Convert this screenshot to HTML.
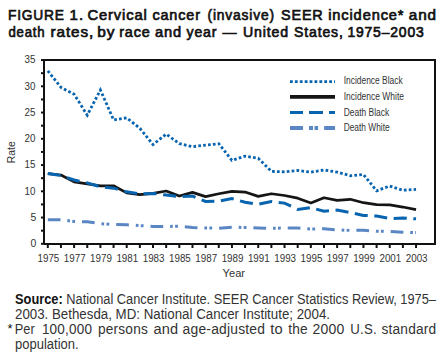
<!DOCTYPE html>
<html><head><meta charset="utf-8"><style>
html,body{margin:0;padding:0;background:#fff;}
svg{display:block;}
text{font-family:"Liberation Sans",sans-serif;fill:#111;}
.lt{fill:#333;}
</style></head><body>
<svg width="444" height="355" viewBox="0 0 444 355">
<text x="7.92" y="19.599999999999998" font-size="15" font-weight="normal" stroke="#111" stroke-width="0.7" letter-spacing="0.9" textLength="56.92" lengthAdjust="spacingAndGlyphs">FIGURE</text>
<text x="69.64" y="19.599999999999998" font-size="15" font-weight="normal" stroke="#111" stroke-width="0.7" letter-spacing="0.9" textLength="14.36" lengthAdjust="spacingAndGlyphs">1.</text>
<text x="87.44" y="19.599999999999998" font-size="15" font-weight="normal" stroke="#111" stroke-width="0.7" letter-spacing="0.9" textLength="60.28" lengthAdjust="spacingAndGlyphs">Cervical</text>
<text x="152.44" y="19.599999999999998" font-size="15" font-weight="normal" stroke="#111" stroke-width="0.7" letter-spacing="0.9" textLength="48.36" lengthAdjust="spacingAndGlyphs">cancer</text>
<text x="207.48" y="19.599999999999998" font-size="15" font-weight="normal" stroke="#111" stroke-width="0.7" letter-spacing="0.9" textLength="67.40" lengthAdjust="spacingAndGlyphs">(invasive)</text>
<text x="280.96" y="19.599999999999998" font-size="15" font-weight="normal" stroke="#111" stroke-width="0.7" letter-spacing="0.9" textLength="42.68" lengthAdjust="spacingAndGlyphs">SEER</text>
<text x="328.20" y="19.599999999999998" font-size="15" font-weight="normal" stroke="#111" stroke-width="0.7" letter-spacing="0.9" textLength="76.20" lengthAdjust="spacingAndGlyphs">incidence*</text>
<text x="408.76" y="19.599999999999998" font-size="15" font-weight="normal" stroke="#111" stroke-width="0.7" letter-spacing="0.9" textLength="28.20" lengthAdjust="spacingAndGlyphs">and</text>
<text x="8.52" y="37.1" font-size="15" font-weight="normal" stroke="#111" stroke-width="0.7" letter-spacing="0.9" textLength="36.88" lengthAdjust="spacingAndGlyphs">death</text>
<text x="50.48" y="37.1" font-size="15" font-weight="normal" stroke="#111" stroke-width="0.7" letter-spacing="0.9" textLength="43.72" lengthAdjust="spacingAndGlyphs">rates,</text>
<text x="97.20" y="37.1" font-size="15" font-weight="normal" stroke="#111" stroke-width="0.7" letter-spacing="0.9" textLength="18.16" lengthAdjust="spacingAndGlyphs">by</text>
<text x="119.20" y="37.1" font-size="15" font-weight="normal" stroke="#111" stroke-width="0.7" letter-spacing="0.9" textLength="31.44" lengthAdjust="spacingAndGlyphs">race</text>
<text x="155.00" y="37.1" font-size="15" font-weight="normal" stroke="#111" stroke-width="0.7" letter-spacing="0.9" textLength="27.16" lengthAdjust="spacingAndGlyphs">and</text>
<text x="186.52" y="37.1" font-size="15" font-weight="normal" stroke="#111" stroke-width="0.7" letter-spacing="0.9" textLength="30.76" lengthAdjust="spacingAndGlyphs">year</text>
<text x="222.56" y="37.1" font-size="15" font-weight="normal" stroke="#111" stroke-width="0.7" letter-spacing="0.9" textLength="14.92" lengthAdjust="spacingAndGlyphs">—</text>
<text x="242.92" y="37.1" font-size="15" font-weight="normal" stroke="#111" stroke-width="0.7" letter-spacing="0.9" textLength="45.96" lengthAdjust="spacingAndGlyphs">United</text>
<text x="294.00" y="37.1" font-size="15" font-weight="normal" stroke="#111" stroke-width="0.7" letter-spacing="0.9" textLength="49.72" lengthAdjust="spacingAndGlyphs">States,</text>
<text x="347.40" y="37.1" font-size="15" font-weight="normal" stroke="#111" stroke-width="0.7" letter-spacing="0.9" textLength="77.20" lengthAdjust="spacingAndGlyphs">1975–2003</text>
<text x="14.64" y="334" font-size="13.8" class="lt" letter-spacing="0.2" textLength="20.44" lengthAdjust="spacingAndGlyphs">Per</text>
<text x="41.88" y="334" font-size="13.8" class="lt" letter-spacing="0.2" textLength="50.24" lengthAdjust="spacingAndGlyphs">100,000</text>
<text x="97.88" y="334" font-size="13.8" class="lt" letter-spacing="0.2" textLength="50.16" lengthAdjust="spacingAndGlyphs">persons</text>
<text x="153.40" y="334" font-size="13.8" class="lt" letter-spacing="0.2" textLength="24.96" lengthAdjust="spacingAndGlyphs">and</text>
<text x="182.64" y="334" font-size="13.8" class="lt" letter-spacing="0.2" textLength="82.52" lengthAdjust="spacingAndGlyphs">age-adjusted</text>
<text x="270.20" y="334" font-size="13.8" class="lt" letter-spacing="0.2" textLength="12.64" lengthAdjust="spacingAndGlyphs">to</text>
<text x="288.28" y="334" font-size="13.8" class="lt" letter-spacing="0.2" textLength="19.60" lengthAdjust="spacingAndGlyphs">the</text>
<text x="312.64" y="334" font-size="13.8" class="lt" letter-spacing="0.2" textLength="31.96" lengthAdjust="spacingAndGlyphs">2000</text>
<text x="350.36" y="334" font-size="13.8" class="lt" letter-spacing="0.2" textLength="26.52" lengthAdjust="spacingAndGlyphs">U.S.</text>
<text x="381.44" y="334" font-size="13.8" class="lt" letter-spacing="0.2" textLength="54.92" lengthAdjust="spacingAndGlyphs">standard</text>
<path d="M44,244 V60 H435 V244 H44" fill="none" stroke="#111" stroke-width="2"/>
<line x1="41" x2="44" y1="243.80" y2="243.80" stroke="#111" stroke-width="2"/>
<line x1="41" x2="44" y1="230.68" y2="230.68" stroke="#111" stroke-width="2"/>
<line x1="41" x2="44" y1="217.55" y2="217.55" stroke="#111" stroke-width="2"/>
<line x1="41" x2="44" y1="204.43" y2="204.43" stroke="#111" stroke-width="2"/>
<line x1="41" x2="44" y1="191.30" y2="191.30" stroke="#111" stroke-width="2"/>
<line x1="41" x2="44" y1="178.18" y2="178.18" stroke="#111" stroke-width="2"/>
<line x1="41" x2="44" y1="165.05" y2="165.05" stroke="#111" stroke-width="2"/>
<line x1="41" x2="44" y1="151.93" y2="151.93" stroke="#111" stroke-width="2"/>
<line x1="41" x2="44" y1="138.80" y2="138.80" stroke="#111" stroke-width="2"/>
<line x1="41" x2="44" y1="125.68" y2="125.68" stroke="#111" stroke-width="2"/>
<line x1="41" x2="44" y1="112.55" y2="112.55" stroke="#111" stroke-width="2"/>
<line x1="41" x2="44" y1="99.43" y2="99.43" stroke="#111" stroke-width="2"/>
<line x1="41" x2="44" y1="86.30" y2="86.30" stroke="#111" stroke-width="2"/>
<line x1="41" x2="44" y1="73.18" y2="73.18" stroke="#111" stroke-width="2"/>
<line x1="41" x2="44" y1="60.05" y2="60.05" stroke="#111" stroke-width="2"/>
<text class="lt" x="30.50" y="247.10" font-size="10.6" textLength="5.8" lengthAdjust="spacingAndGlyphs">0</text>
<text class="lt" x="30.50" y="220.85" font-size="10.6" textLength="5.8" lengthAdjust="spacingAndGlyphs">5</text>
<text class="lt" x="24.60" y="194.60" font-size="10.6" textLength="10.9" lengthAdjust="spacingAndGlyphs">10</text>
<text class="lt" x="24.60" y="168.35" font-size="10.6" textLength="10.9" lengthAdjust="spacingAndGlyphs">15</text>
<text class="lt" x="24.60" y="142.10" font-size="10.6" textLength="10.9" lengthAdjust="spacingAndGlyphs">20</text>
<text class="lt" x="24.60" y="115.85" font-size="10.6" textLength="10.9" lengthAdjust="spacingAndGlyphs">25</text>
<text class="lt" x="24.60" y="89.60" font-size="10.6" textLength="10.9" lengthAdjust="spacingAndGlyphs">30</text>
<text class="lt" x="24.60" y="63.35" font-size="10.6" textLength="10.9" lengthAdjust="spacingAndGlyphs">35</text>
<line x1="47.80" x2="47.80" y1="244" y2="248" stroke="#111" stroke-width="2"/>
<line x1="60.95" x2="60.95" y1="244" y2="248" stroke="#111" stroke-width="2"/>
<line x1="74.10" x2="74.10" y1="244" y2="248" stroke="#111" stroke-width="2"/>
<line x1="87.26" x2="87.26" y1="244" y2="248" stroke="#111" stroke-width="2"/>
<line x1="100.41" x2="100.41" y1="244" y2="248" stroke="#111" stroke-width="2"/>
<line x1="113.56" x2="113.56" y1="244" y2="248" stroke="#111" stroke-width="2"/>
<line x1="126.71" x2="126.71" y1="244" y2="248" stroke="#111" stroke-width="2"/>
<line x1="139.86" x2="139.86" y1="244" y2="248" stroke="#111" stroke-width="2"/>
<line x1="153.02" x2="153.02" y1="244" y2="248" stroke="#111" stroke-width="2"/>
<line x1="166.17" x2="166.17" y1="244" y2="248" stroke="#111" stroke-width="2"/>
<line x1="179.32" x2="179.32" y1="244" y2="248" stroke="#111" stroke-width="2"/>
<line x1="192.47" x2="192.47" y1="244" y2="248" stroke="#111" stroke-width="2"/>
<line x1="205.62" x2="205.62" y1="244" y2="248" stroke="#111" stroke-width="2"/>
<line x1="218.78" x2="218.78" y1="244" y2="248" stroke="#111" stroke-width="2"/>
<line x1="231.93" x2="231.93" y1="244" y2="248" stroke="#111" stroke-width="2"/>
<line x1="245.08" x2="245.08" y1="244" y2="248" stroke="#111" stroke-width="2"/>
<line x1="258.23" x2="258.23" y1="244" y2="248" stroke="#111" stroke-width="2"/>
<line x1="271.38" x2="271.38" y1="244" y2="248" stroke="#111" stroke-width="2"/>
<line x1="284.54" x2="284.54" y1="244" y2="248" stroke="#111" stroke-width="2"/>
<line x1="297.69" x2="297.69" y1="244" y2="248" stroke="#111" stroke-width="2"/>
<line x1="310.84" x2="310.84" y1="244" y2="248" stroke="#111" stroke-width="2"/>
<line x1="323.99" x2="323.99" y1="244" y2="248" stroke="#111" stroke-width="2"/>
<line x1="337.14" x2="337.14" y1="244" y2="248" stroke="#111" stroke-width="2"/>
<line x1="350.30" x2="350.30" y1="244" y2="248" stroke="#111" stroke-width="2"/>
<line x1="363.45" x2="363.45" y1="244" y2="248" stroke="#111" stroke-width="2"/>
<line x1="376.60" x2="376.60" y1="244" y2="248" stroke="#111" stroke-width="2"/>
<line x1="389.75" x2="389.75" y1="244" y2="248" stroke="#111" stroke-width="2"/>
<line x1="402.90" x2="402.90" y1="244" y2="248" stroke="#111" stroke-width="2"/>
<line x1="416.06" x2="416.06" y1="244" y2="248" stroke="#111" stroke-width="2"/>
<text class="lt" x="37.50" y="262.4" font-size="10.7" textLength="21.8" lengthAdjust="spacingAndGlyphs">1975</text>
<text class="lt" x="63.80" y="262.4" font-size="10.7" textLength="21.8" lengthAdjust="spacingAndGlyphs">1977</text>
<text class="lt" x="90.11" y="262.4" font-size="10.7" textLength="21.8" lengthAdjust="spacingAndGlyphs">1979</text>
<text class="lt" x="116.41" y="262.4" font-size="10.7" textLength="21.8" lengthAdjust="spacingAndGlyphs">1981</text>
<text class="lt" x="142.72" y="262.4" font-size="10.7" textLength="21.8" lengthAdjust="spacingAndGlyphs">1983</text>
<text class="lt" x="169.02" y="262.4" font-size="10.7" textLength="21.8" lengthAdjust="spacingAndGlyphs">1985</text>
<text class="lt" x="195.32" y="262.4" font-size="10.7" textLength="21.8" lengthAdjust="spacingAndGlyphs">1987</text>
<text class="lt" x="221.63" y="262.4" font-size="10.7" textLength="21.8" lengthAdjust="spacingAndGlyphs">1989</text>
<text class="lt" x="247.93" y="262.4" font-size="10.7" textLength="21.8" lengthAdjust="spacingAndGlyphs">1991</text>
<text class="lt" x="274.24" y="262.4" font-size="10.7" textLength="21.8" lengthAdjust="spacingAndGlyphs">1993</text>
<text class="lt" x="300.54" y="262.4" font-size="10.7" textLength="21.8" lengthAdjust="spacingAndGlyphs">1995</text>
<text class="lt" x="326.84" y="262.4" font-size="10.7" textLength="21.8" lengthAdjust="spacingAndGlyphs">1997</text>
<text class="lt" x="353.15" y="262.4" font-size="10.7" textLength="21.8" lengthAdjust="spacingAndGlyphs">1999</text>
<text class="lt" x="379.45" y="262.4" font-size="10.7" textLength="21.8" lengthAdjust="spacingAndGlyphs">2001</text>
<text class="lt" x="405.76" y="262.4" font-size="10.7" textLength="21.8" lengthAdjust="spacingAndGlyphs">2003</text>
<text class="lt" x="222.6" y="276.5" font-size="11" textLength="22.4" lengthAdjust="spacingAndGlyphs">Year</text>
<text class="lt" transform="translate(14.9,152.3) rotate(-90)" font-size="10.4" text-anchor="middle">Rate</text>
<polyline points="47.80,219.65 60.95,219.65 74.10,221.49 87.26,221.75 100.41,223.69 113.56,224.38 126.71,224.80 139.86,225.58 153.02,226.48 166.17,226.48 179.32,226.21 192.47,227.53 205.62,227.89 218.78,228.31 231.93,227.21 245.08,227.53 258.23,227.89 271.38,228.31 284.54,228.05 297.69,228.05 310.84,229.00 323.99,228.84 337.14,229.89 350.30,230.41 363.45,230.31 376.60,231.20 389.75,231.46 402.90,232.25 416.06,232.62" fill="none" stroke="#5a87c3" stroke-width="3" stroke-dasharray="12.7 6.9 2.7 2.3 2.8 6.95"/>
<polyline points="47.80,173.71 60.95,175.03 74.10,181.85 87.26,183.95 100.41,185.79 113.56,185.79 126.71,192.88 139.86,194.61 153.02,193.40 166.17,190.99 179.32,196.03 192.47,192.35 205.62,196.60 218.78,193.72 231.93,191.30 245.08,192.09 258.23,196.39 271.38,193.72 284.54,195.50 297.69,198.18 310.84,203.01 323.99,197.71 337.14,200.38 350.30,199.28 363.45,202.69 376.60,204.69 389.75,204.95 402.90,207.05 416.06,209.68" fill="none" stroke="#151515" stroke-width="2.7" stroke-linejoin="round"/>
<polyline points="47.80,173.45 60.95,175.55 74.10,180.01 87.26,182.90 100.41,186.84 113.56,188.15 126.71,191.83 139.86,193.93 153.02,193.40 166.17,195.08 179.32,196.55 192.47,196.03 205.62,201.49 218.78,201.12 231.93,198.65 245.08,202.22 258.23,204.22 271.38,201.49 284.54,203.11 297.69,209.41 310.84,207.58 323.99,211.25 337.14,210.10 350.30,212.56 363.45,215.45 376.60,215.98 389.75,218.60 402.90,218.08 416.06,218.86" fill="none" stroke="#0864ae" stroke-width="3" stroke-dasharray="13.1 6.56"/>
<polyline points="47.80,70.81 60.95,87.35 74.10,94.18 87.26,115.18 100.41,89.97 113.56,119.90 126.71,117.80 139.86,128.30 153.02,144.58 166.17,134.08 179.32,143.68 192.47,146.68 205.62,145.10 218.78,143.68 231.93,160.32 245.08,156.12 258.23,158.23 271.38,171.35 284.54,171.88 297.69,170.51 310.84,172.09 323.99,169.99 337.14,172.09 350.30,175.71 363.45,174.50 376.60,190.78 389.75,186.05 402.90,190.25 416.06,189.41" fill="none" stroke="#0864ae" stroke-width="2.8" stroke-dasharray="2.7 2.2"/>
<line x1="290" x2="335" y1="81.7" y2="81.7" stroke="#0864ae" stroke-width="2.7" stroke-dasharray="2.8 2.1"/>
<line x1="290" x2="335" y1="96.8" y2="96.8" stroke="#151515" stroke-width="3.8"/>
<line x1="290" x2="335" y1="112.5" y2="112.5" stroke="#0864ae" stroke-width="3" stroke-dasharray="13 6 14 6 6"/>
<line x1="290" x2="335" y1="128" y2="128" stroke="#5a87c3" stroke-width="4" stroke-dasharray="13 6 4 1.5 3.6 6 11"/>
<text class="lt" x="343.7" y="84.1" font-size="10" textLength="59" lengthAdjust="spacingAndGlyphs">Incidence Black</text>
<text class="lt" x="343.7" y="99.8" font-size="10" textLength="60.3" lengthAdjust="spacingAndGlyphs">Incidence White</text>
<text class="lt" x="343.7" y="115.8" font-size="10" textLength="45.5" lengthAdjust="spacingAndGlyphs">Death Black</text>
<text class="lt" x="343.7" y="130.8" font-size="10" textLength="46" lengthAdjust="spacingAndGlyphs">Death White</text>
<text class="lt" x="15" y="303.8" font-size="13.8" textLength="421" lengthAdjust="spacingAndGlyphs"><tspan font-weight="bold" style="fill:#111">Source:</tspan> National Cancer Institute. SEER Cancer Statistics Review, 1975–</text>
<text class="lt" x="15" y="318.8" font-size="13.8" textLength="315" lengthAdjust="spacingAndGlyphs">2003. Bethesda, MD: National Cancer Institute; 2004.</text>
<text x="7.6" y="332.6" font-size="13">*</text>
<text class="lt" x="15" y="348.8" font-size="13.8" textLength="63.6" lengthAdjust="spacingAndGlyphs">population.</text>
</svg></body></html>
